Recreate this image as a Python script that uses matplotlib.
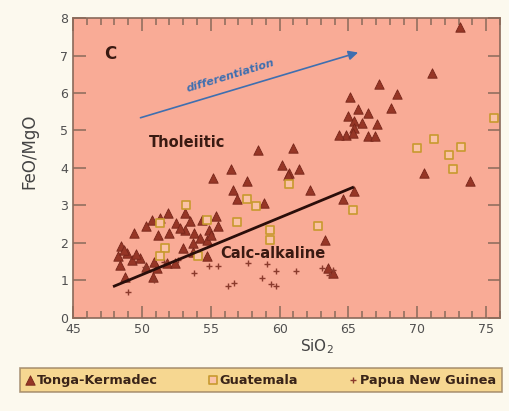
import numpy as np
import matplotlib.pyplot as plt
from matplotlib.ticker import MultipleLocator

# Tonga-Kermadec (SiO2, FeO/MgO)
tonga_sio2 = [73.1, 71.1, 67.2, 68.5, 65.1, 68.1, 65.7, 66.4, 65.0, 65.4, 66.0, 67.1, 65.4, 64.8,
              65.3, 66.4, 66.9, 64.3, 70.5, 73.8, 58.4, 61.0, 60.2, 60.7, 61.4, 56.5, 55.2, 57.6,
              56.6, 56.9, 62.2, 65.4, 64.6, 58.9, 63.3, 63.5, 63.9, 53.1, 51.9, 51.3, 50.7, 50.3,
              53.5, 52.5, 53.1, 53.8, 54.2, 54.7, 55.4, 55.5, 54.9, 49.4, 48.5, 48.9, 48.3, 49.3,
              49.9, 50.3, 51.1, 51.8, 53.0, 53.7, 54.7, 52.4, 50.8, 48.8, 48.4, 53.7, 52.0, 51.2,
              48.7, 49.6, 50.9, 52.8, 54.4, 55.0, 60.6]
tonga_ratio = [7.75, 6.54, 6.23, 5.96, 5.89, 5.60, 5.56, 5.47, 5.38, 5.25, 5.20, 5.16, 5.07, 4.89,
               4.94, 4.85, 4.85, 4.89, 3.87, 3.65, 4.49, 4.54, 4.09, 3.87, 3.96, 3.96, 3.73, 3.65,
               3.42, 3.16, 3.42, 3.38, 3.16, 3.07, 2.09, 1.33, 1.20, 2.80, 2.80, 2.66, 2.62, 2.44,
               2.58, 2.53, 2.35, 2.26, 2.13, 2.09, 2.71, 2.44, 2.35, 2.26, 1.91, 1.73, 1.64, 1.55,
               1.60, 1.37, 1.33, 1.46, 1.86, 1.77, 1.64, 1.46, 1.10, 1.10, 1.42, 2.00, 2.26, 2.22,
               1.80, 1.70, 1.50, 2.40, 2.60, 2.20, 3.80]

# Guatemala
guat_sio2 = [75.6, 71.2, 70.0, 73.2, 72.3, 72.6, 60.7, 57.6, 58.3, 65.3, 62.8, 53.2, 56.9,
             59.3, 59.3, 51.7, 51.3, 54.7, 51.3, 54.1]
guat_ratio = [5.34, 4.76, 4.52, 4.55, 4.34, 3.98, 3.56, 3.18, 2.99, 2.89, 2.46, 3.02, 2.56,
              2.35, 2.09, 1.86, 1.64, 2.62, 2.53, 1.64]

# Papua New Guinea
png_sio2 = [49.0, 53.8, 54.9, 55.5, 56.25, 56.7, 57.7, 58.7, 59.1, 59.4, 59.76, 59.75, 61.2,
            63.1, 63.6, 63.9, 50.2, 51.6, 52.6, 50.9]
png_ratio = [0.69, 1.19, 1.39, 1.39, 0.84, 0.93, 1.46, 1.06, 1.44, 0.91, 0.84, 1.24, 1.24,
             1.33, 1.15, 1.28, 1.35, 1.50, 1.55, 1.02]

# tholeiitic / calc-alkaline divide and differentiation trend
divide_x = [48.0, 65.3]
divide_y = [0.85, 3.48]
trend_start = (49.9, 5.34)
trend_end = (65.7, 7.08)

bg = '#fcf9ee'
fig = plt.figure(figsize=(5.09, 4.11), dpi=100, facecolor=bg)
ax = fig.add_axes([0.1434, 0.2263, 0.8389, 0.7299])
ax.set_facecolor('#f9ab96')

ax.scatter(tonga_sio2, tonga_ratio, marker='^', s=46, facecolor='#963626',
           edgecolor='#76261a', linewidth=0.6, zorder=3, label='Tonga-Kermadec')
ax.scatter(guat_sio2, guat_ratio, marker='s', s=30, facecolor='#fbc2a6',
           edgecolor='#c89a2e', linewidth=1.2, zorder=4, label='Guatemala')
ax.scatter(png_sio2, png_ratio, marker='+', s=24, color='#8a3a2c',
           linewidth=1.0, zorder=3, label='Papua New Guinea')

ax.plot(divide_x, divide_y, color='#2a0e0a', linewidth=2.0, zorder=5)
ax.annotate('', xy=trend_end, xytext=trend_start,
            arrowprops=dict(arrowstyle='-|>', color='#3f6fb0', lw=1.2,
                            mutation_scale=14, shrinkA=0, shrinkB=0))
ax.text(56.4, 6.45, 'differentiation', color='#3f6fb0', fontsize=8, fontweight='bold',
        fontstyle='italic', rotation=17, ha='center', va='center')

ax.text(47.7, 7.03, 'C', fontsize=12, fontweight='bold', color='#3a1a12', ha='center', va='center')
ax.text(53.3, 4.68, 'Tholeiitic', fontsize=10.5, fontweight='bold', color='#3a1a12',
        ha='center', va='center')
ax.text(59.5, 1.73, 'Calc-alkaline', fontsize=10.5, fontweight='bold', color='#3a1a12',
        ha='center', va='center', zorder=6)

ax.set_xlim(45, 76)
ax.set_ylim(0, 8)
ax.xaxis.set_major_locator(MultipleLocator(5))
ax.xaxis.set_minor_locator(MultipleLocator(1))
ax.yaxis.set_major_locator(MultipleLocator(1))
ax.tick_params(which='both', direction='in', top=True, right=True, colors='#8a6a5a',
               labelcolor='#505050', labelsize=9)
ax.tick_params(which='major', length=9, width=1.1)
ax.tick_params(which='minor', length=5, width=1.1)
for sp in ax.spines.values():
    sp.set_color('#8a6a5a')
    sp.set_linewidth(1.2)

ax.set_xlabel('SiO$_2$', fontsize=11, color='#444444')
ax.set_ylabel('FeO/MgO', fontsize=12, color='#444444')
ax.xaxis.set_label_coords(0.571, -0.065)
ax.yaxis.set_label_coords(-0.08, 0.557)

leg = fig.legend(loc='center', bbox_to_anchor=(0.039, 0.044, 0.947, 0.062), mode='expand',
                 ncol=3, frameon=True, fancybox=False, fontsize=9.3, handletextpad=0.15,
                 borderpad=0.45, handlelength=0.7, columnspacing=2.5, scatterpoints=1,
                 borderaxespad=0)
leg.get_frame().set_facecolor('#f5cf7a')
leg.get_frame().set_edgecolor('#9a8060')
leg.get_frame().set_linewidth(1.2)
for t in leg.get_texts():
    t.set_fontweight('bold')
    t.set_color('#3a2418')

fig.savefig('out.png', dpi=100, facecolor=bg)
